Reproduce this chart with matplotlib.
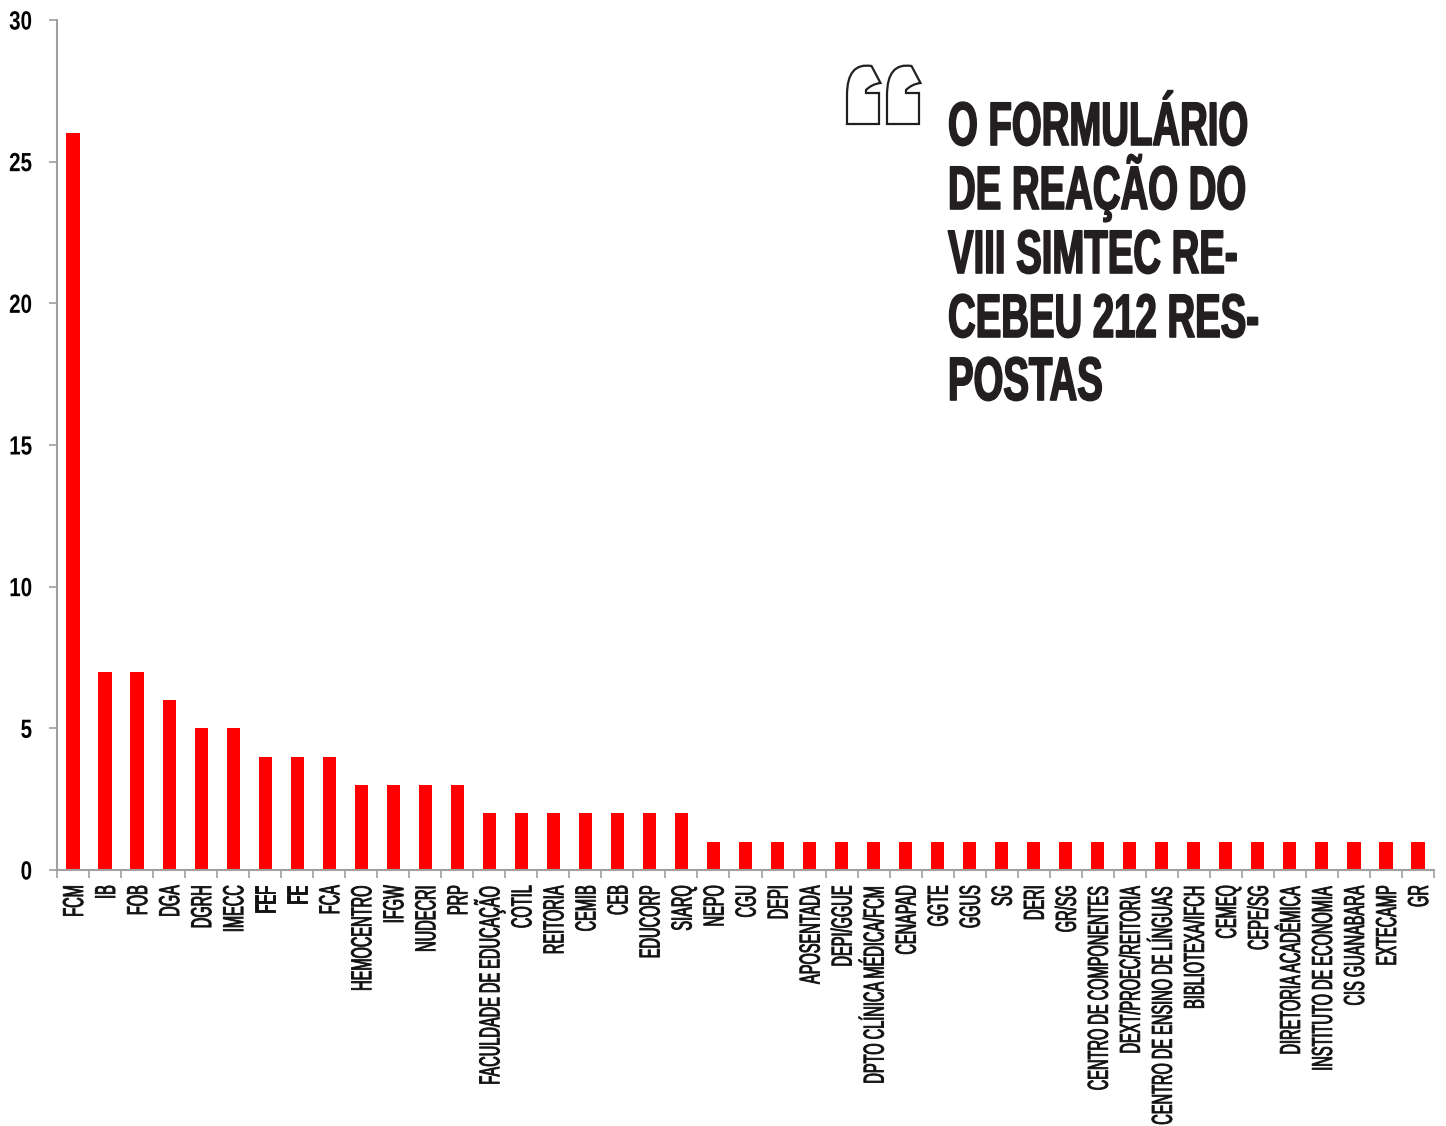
import matplotlib
matplotlib.use('Agg')
import matplotlib.pyplot as plt
import matplotlib.patheffects as pe
from matplotlib.path import Path
from matplotlib.patches import PathPatch
from matplotlib.transforms import Affine2D, ScaledTranslation

W, H = 1446, 1126

# Data
categories = [
    'FCM', 'IB', 'FOB', 'DGA', 'DGRH', 'IMECC', 'FEF', 'FE', 'FCA', 'HEMOCENTRO',
    'IFGW', 'NUDECRI', 'PRP', 'FACULDADE DE EDUCAÇÃO', 'COTIL', 'REITORIA', 'CEMIB',
    'CEB', 'EDUCORP', 'SIARQ', 'NEPO', 'CGU', 'DEPI', 'APOSENTADA', 'DEPI/GGUE',
    'DPTO CLÍNICA MÉDICA/FCM', 'CENAPAD', 'GGTE', 'GGUS', 'SG', 'DERI', 'GR/SG',
    'CENTRO DE COMPONENTES', 'DEXT/PROEC/REITORIA', 'CENTRO DE ENSINO DE LÍNGUAS',
    'BIBLIOTEXA/IFCH', 'CEMEQ', 'CEPE/SG', 'DIRETORIA ACADÊMICA',
    'INSTITUTO DE ECONOMIA', 'CIS GUANABARA', 'EXTECAMP', 'GR',
]
values = [26, 7, 7, 6, 5, 5, 4, 4, 4, 3, 3, 3, 3, 2, 2, 2, 2, 2, 2, 2,
          1, 1, 1, 1, 1, 1, 1, 1, 1, 1, 1, 1, 1, 1, 1, 1, 1, 1, 1, 1, 1, 1, 1]
y_ticks = [0, 5, 10, 15, 20, 25, 30]
heading = ['O FORMULÁRIO', 'DE REAÇÃO DO', 'VIII SIMTEC RE-', 'CEBEU 212 RES-', 'POSTAS']


class Tall(pe.AbstractPathEffect):
    """Stretch glyphs away from the baseline: no narrow font here, so small text made tall."""

    def __init__(self, sy, stroke=0.0, dy=0.0):
        super().__init__()
        self.sy = sy
        self.stroke = stroke
        self.dy = dy

    def draw_path(self, renderer, gc, tpath, affine, rgbFace=None):
        tall = Affine2D().scale(1, self.sy) + affine + Affine2D().translate(0, self.dy)
        gc0 = renderer.new_gc()
        gc0.copy_properties(gc)
        if self.stroke:
            gc0.set_linewidth(self.stroke)
            gc0.set_foreground(rgbFace)
        renderer.draw_path(gc0, tpath, tall, rgbFace)
        gc0.restore()


plt.rcParams['font.family'] = ['Liberation Sans', 'DejaVu Sans']

fig = plt.figure(figsize=(W / 100, H / 100), dpi=100)
ax = fig.add_axes([57 / W, 1 - 870 / H, (1434 - 57) / W, 850 / H])

x = list(range(len(categories)))
ax.bar(x, values, width=0.41, color='#ff0000')

ax.set_xlim(-0.5, len(categories) - 0.5)
ax.set_ylim(0, 30)
ax.spines['top'].set_visible(False)
ax.spines['right'].set_visible(False)
for side in ['left', 'bottom']:
    ax.spines[side].set_color('#a0a0a0')
    ax.spines[side].set_linewidth(1.5)

# ticks sit between the bars, labels under the bars
ax.set_xticks([i - 0.5 for i in range(len(categories) + 1)])
ax.set_xticklabels([])
ax.tick_params(axis='x', length=5.5, width=1.2, color='#a0a0a0')
ax.set_yticks(y_ticks)
ax.tick_params(axis='y', length=5.5, width=1.2, color='#a0a0a0', pad=12.5)
for lab in ax.get_yticklabels():
    lab.set_fontsize(14.8)
    lab.set_fontweight('bold')
    lab.set_path_effects([Tall(1.28, dy=-2)])

# baseline 10 px right of the bar centre, label top 15 px under the axis
label_trans = ax.get_xaxis_transform() + ScaledTranslation(0.10, -0.15, fig.dpi_scale_trans)
for i, name in enumerate(categories):
    t = ax.text(i, 0, name, transform=label_trans, rotation=90, rotation_mode='anchor',
                ha='right', va='baseline', fontsize=10.5, color='#111111')
    t.set_path_effects([Tall(1.97, stroke=0.65)])

# Heading
baselines = [145, 209, 273, 337, 400]
for line, base in zip(heading, baselines):
    t = fig.text(948 / W, 1 - base / H, line, fontsize=27.6, fontweight='bold',
                 color='#231f20', ha='left', va='baseline')
    t.set_path_effects([Tall(1.6, stroke=1.2)])

# Outlined quote marks, in figure pixels
for dx in [0, 40]:
    verts = [(847, 124), (879, 124), (879, 93), (866, 93), (866, 90), (872, 84), (880.5, 83),
             (871.5, 66), (847, 62), (847, 95), (847, 124)]
    verts = [(vx + dx, H - vy) for vx, vy in verts]
    codes = [Path.MOVETO, Path.LINETO, Path.LINETO, Path.LINETO, Path.LINETO,
             Path.CURVE3, Path.CURVE3, Path.LINETO, Path.CURVE3, Path.CURVE3, Path.CLOSEPOLY]
    fig.add_artist(PathPatch(Path(verts, codes), transform=None, facecolor='white',
                             edgecolor='#231f20', linewidth=1.6))

fig.savefig('out.png', dpi=100)
